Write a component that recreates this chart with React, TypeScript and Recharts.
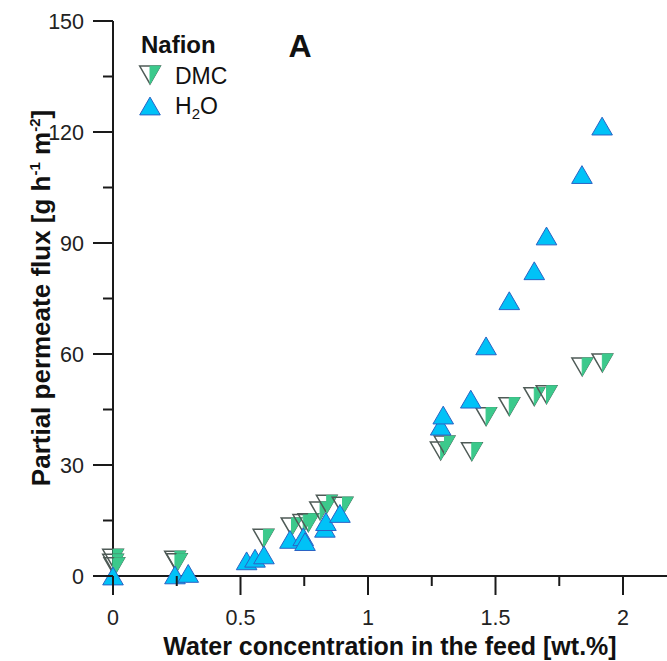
import { ScatterChart, Scatter, XAxis, YAxis, Legend } from 'recharts';

// DMC partial flux (down triangles, half filled)
const dmcX = [0, 0, 0.005, 0.243, 0.25, 0.59, 0.7, 0.746, 0.766, 0.812, 0.838, 0.9, 1.285, 1.3, 1.407, 1.463, 1.554, 1.652, 1.7, 1.84, 1.919];
const dmcY = [4.8, 3.5, 2.5, 4.3, 3.6, 10.2, 13.3, 14.2, 14.4, 17.6, 19.4, 18.9, 33.8, 35.4, 33.6, 43.1, 45.8, 48.5, 49.0, 56.5, 57.6];

// H2O partial flux (up triangles)
const h2oX = [0, 0.243, 0.295, 0.524, 0.557, 0.592, 0.694, 0.746, 0.753, 0.831, 0.835, 0.89, 1.285, 1.295, 1.403, 1.463, 1.554, 1.652, 1.7, 1.839, 1.918];
const h2oY = [0, 0.3, 0.7, 4.1, 4.8, 5.7, 9.9, 10.6, 9.3, 12.9, 14.7, 16.9, 40.5, 43.5, 47.8, 62.2, 74.4, 82.5, 91.9, 108.5, 121.6];

const xTicks = [0, 0.25, 0.5, 0.75, 1, 1.25, 1.5, 1.75, 2];
const xLabels = ['0', '', '0.5', '', '1', '', '1.5', '', '2'];
const yTicks = [0, 15, 30, 45, 60, 75, 90, 105, 120, 135, 150];
const yLabels = ['0', '', '30', '', '60', '', '90', '', '120', '', '150'];

const dmc = dmcX.map((x, i) => ({ x, y: dmcY[i] }));
const h2o = h2oX.map((x, i) => ({ x, y: h2oY[i] }));

const FONT = '"Liberation Sans", Arial, Helvetica, sans-serif';
const AXIS_X = 113;
const AXIS_Y = 576;
const INK = '#1a1a1a';
const BLUE = '#00c2f7';
const BLUE_EDGE = '#2b62c4';
const GREEN = '#3cc98c';
const GRAY_EDGE = '#4f5b57';

const S = 10.3; // half side of triangle
const H = 8.9; // half height

const UpTri = ({ cx, cy }: any) => (
  <path
    d={`M${cx},${cy - H} L${cx + S},${cy + H} L${cx - S},${cy + H} Z`}
    fill={BLUE}
    stroke={BLUE_EDGE}
    strokeWidth={1}
  />
);

const DownTri = ({ cx, cy }: any) => (
  <g>
    <path
      d={`M${cx - S},${cy - H} L${cx + S},${cy - H} L${cx},${cy + H} Z`}
      fill="none"
      stroke={GRAY_EDGE}
      strokeWidth={1.5}
    />
    <path
      d={`M${cx},${cy - H} L${cx + S},${cy - H} L${cx},${cy + H} Z`}
      fill={GREEN}
      stroke={GREEN}
      strokeWidth={1}
    />
  </g>
);

const XTick = (props: any) => {
  const { x, payload } = props;
  const i = xTicks.indexOf(payload.value);
  const label = xLabels[i];
  const major = label !== '';
  return (
    <g>
      <line x1={x} x2={x} y1={AXIS_Y} y2={AXIS_Y + (major ? 19 : 10)} stroke={INK} strokeWidth={2} />
      {major && (
        <text x={x} y={625} textAnchor="middle" fontSize={21.5} fontFamily={FONT} fill="#222">
          {label}
        </text>
      )}
    </g>
  );
};

const YTick = (props: any) => {
  const { y, payload } = props;
  const i = yTicks.indexOf(payload.value);
  const label = yLabels[i];
  const major = label !== '';
  return (
    <g>
      <line x1={AXIS_X - (major ? 20 : 10)} x2={AXIS_X} y1={y} y2={y} stroke={INK} strokeWidth={2} />
      {major && (
        <text x={84} y={y + 7.5} textAnchor="end" fontSize={21.5} fontFamily={FONT} fill="#222">
          {label}
        </text>
      )}
    </g>
  );
};

const XTitle = () => (
  <text x={390} y={655} textAnchor="middle" fontSize={25} fontWeight="bold" fontFamily={FONT} fill="#111">
    Water concentration in the feed [wt.%]
  </text>
);

const YTitle = () => (
  <text
    x={50}
    y={298}
    transform="rotate(-90, 50, 298)"
    textAnchor="middle"
    fontSize={26}
    fontWeight="bold"
    fontFamily={FONT}
    fill="#111"
  >
    Partial permeate flux [g h
    <tspan fontSize={15} dy={-10}>-1</tspan>
    <tspan dy={10}> m</tspan>
    <tspan fontSize={15} dy={-10}>-2</tspan>
    <tspan dy={10}>]</tspan>
  </text>
);

const LegendBox = () => (
  <svg width={340} height={130} style={{ display: 'block', overflow: 'visible' }}>
    <text x={141} y={53} fontSize={24} fontWeight="bold" fontFamily={FONT} fill="#111">
      Nafion
    </text>
    <text x={300} y={57} textAnchor="middle" fontSize={32} fontWeight="bold" fontFamily={FONT} fill="#111">
      A
    </text>
    <DownTri cx={150} cy={75} />
    <text x={175} y={84} fontSize={23} fontFamily={FONT} fill="#111">
      DMC
    </text>
    <UpTri cx={150} cy={106} />
    <text x={175} y={114} fontSize={23} fontFamily={FONT} fill="#111">
      H<tspan fontSize={15} dy={5}>2</tspan>
      <tspan dy={-5}>O</tspan>
    </text>
  </svg>
);

export default function App() {
  return (
    <div style={{ position: 'absolute', left: 0, top: 0, background: '#fff' }}>
      <ScatterChart width={667} height={661} margin={{ top: 21, right: 0, bottom: 0, left: 0 }}>
        <XAxis
          type="number"
          dataKey="x"
          domain={[0, 2.1725]}
          ticks={xTicks}
          interval={0}
          tick={<XTick />}
          tickLine={false}
          axisLine={{ stroke: INK, strokeWidth: 2 }}
          height={85}
          label={<XTitle />}
        />
        <YAxis
          type="number"
          dataKey="y"
          domain={[0, 150]}
          ticks={yTicks}
          interval={0}
          tick={<YTick />}
          tickLine={false}
          axisLine={{ stroke: INK, strokeWidth: 2 }}
          width={113}
          label={<YTitle />}
        />
        <Legend
          layout="vertical"
          align="center"
          verticalAlign="middle"
          wrapperStyle={{ position: 'absolute', left: 0, top: 0, width: 340, height: 130 }}
          content={() => <LegendBox />}
        />
        <Scatter name="DMC" data={dmc} shape={<DownTri />} isAnimationActive={false} />
        <Scatter name="H2O" data={h2o} shape={<UpTri />} isAnimationActive={false} />
      </ScatterChart>
    </div>
  );
}
